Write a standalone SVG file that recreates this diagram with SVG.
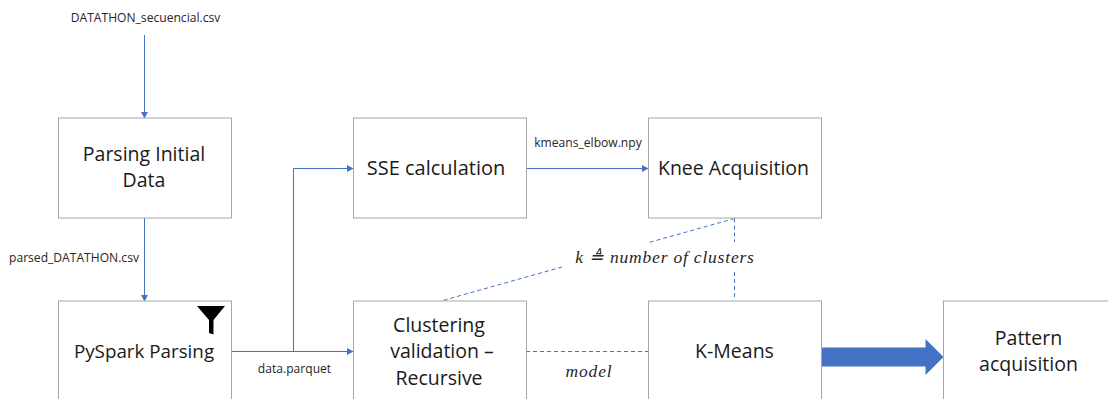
<svg xmlns="http://www.w3.org/2000/svg" width="1108" height="399" viewBox="0 0 1108 399">
<style>
.box{fill:#fff;stroke:#a6a6a6;stroke-width:1}
.t{font-family:"Open Sans","Noto Sans",sans-serif;font-size:19.5px;fill:#1a1a1a;text-anchor:middle}
.s{font-family:"Open Sans","Noto Sans",sans-serif;font-size:12.100px;fill:#262626;text-anchor:middle}
.m{font-family:"Liberation Serif",serif;font-style:italic;font-size:17.500px;fill:#262626;text-anchor:middle;letter-spacing:.8px}
.c{fill:none;stroke:#4472c4;stroke-width:1}
.d{fill:none;stroke:#4472c4;stroke-width:1;stroke-dasharray:4 3}
</style>
<defs>
<marker id="a" markerUnits="userSpaceOnUse" markerWidth="7" markerHeight="7" refX="6" refY="3.500" orient="auto"><path d="M0 0L6.500 3.500L0 7Z" fill="#4472c4"/></marker>
</defs>
<rect width="1108" height="399" fill="#fff"/>
<g id="connectors">
<path class="c" marker-end="url(#a)" d="M144.500 35V118"/>
<path class="c" marker-end="url(#a)" d="M144.500 218V301"/>
<path class="c" marker-end="url(#a)" d="M231 351.500H353"/>
<path class="c" marker-end="url(#a)" d="M293.500 351.500V168.500H353"/>
<path class="c" marker-end="url(#a)" d="M526 168.500H648"/>
<path class="d" d="M734.500 218.500L649 242.500M562 267L441 301"/>
<path class="d" d="M734.500 218.500V242M734.500 272V300"/>
<path class="d" d="M526 351.500H648"/>
<path d="M821 347.500H925.500V339L943.500 357L925.500 375V366.500H821Z" fill="#4472c4"/>
</g>
<g id="source"><text class="s" x="145.500" y="22">DATATHON_secuencial.csv</text></g>
<g id="parsing-initial"><rect class="box" x="58.500" y="118" width="173" height="100"/><text class="t" x="144" y="161">Parsing Initial</text><text class="t" x="144" y="187">Data</text></g>
<g id="parsed-label"><text class="s" x="74" y="262">parsed_DATATHON.csv</text></g>
<g id="pyspark"><rect class="box" x="58.500" y="301" width="173" height="110"/><path d="M197 306H225L213.500 320V334.500L209 333V320Z" fill="#000"/><text class="t" style="font-size:18.800px" x="144" y="358">PySpark Parsing</text></g>
<g id="data-label"><text class="s" x="294.500" y="373">data.parquet</text></g>
<g id="sse"><rect class="box" x="353.500" y="118" width="173" height="100"/><text class="t" style="font-size:20px" x="436" y="174.500">SSE calculation</text></g>
<g id="elbow-label"><text class="s" x="588" y="147">kmeans_elbow.npy</text></g>
<g id="knee"><rect class="box" x="648.500" y="118" width="173" height="100"/><text class="t" x="733.500" y="174.500">Knee Acquisition</text></g>
<g id="k-label"><text class="m" x="665" y="263">k ≜ number of clusters</text></g>
<g id="clustering"><rect class="box" x="353.500" y="301" width="173" height="110"/><text class="t" x="439" y="332">Clustering</text><text class="t" x="442" y="358">validation –</text><text class="t" x="439" y="385">Recursive</text></g>
<g id="model-label"><text class="m" x="589" y="377">model</text></g>
<g id="kmeans"><rect class="box" x="648.500" y="301" width="173" height="110"/><text class="t" x="734.500" y="358">K-Means</text></g>
<g id="pattern"><rect class="box" x="943.500" y="301" width="173" height="110"/><text class="t" x="1028.500" y="345">Pattern</text><text class="t" x="1028.500" y="371">acquisition</text></g>
</svg>
